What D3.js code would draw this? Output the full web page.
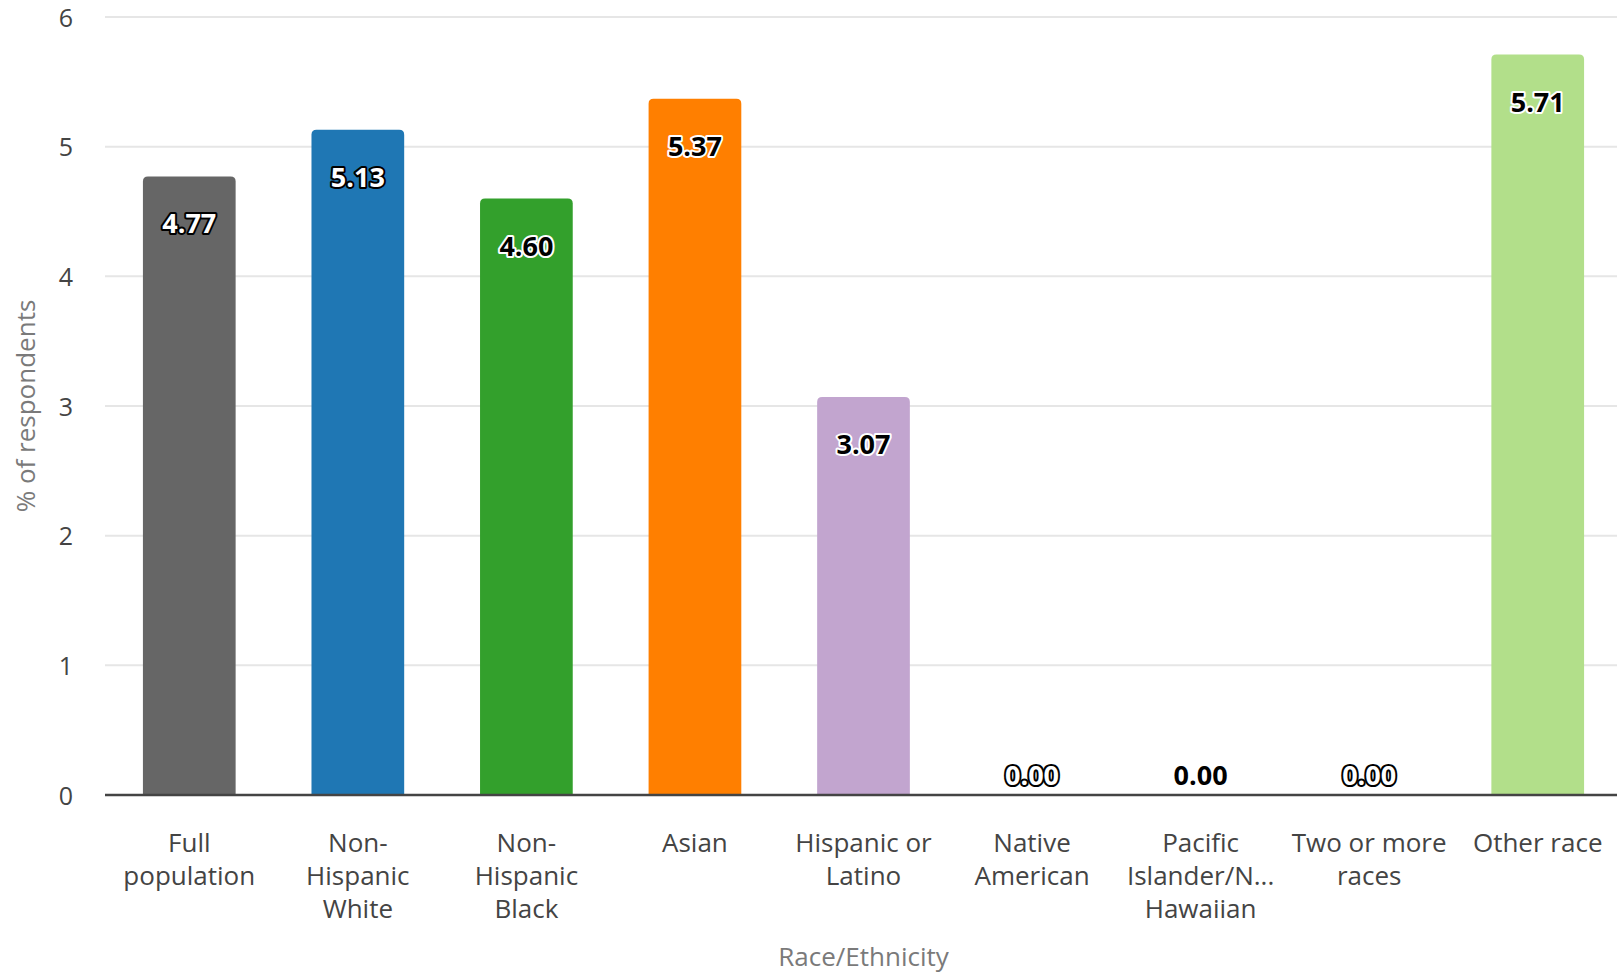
<!DOCTYPE html>
<html>
<head>
<meta charset="utf-8">
<script src="https://cdn.jsdelivr.net/npm/d3@7"></script>
<style>
  html, body { margin: 0; padding: 0; background: #fff; }
  svg { display: block; }
  text { font-family: "Open Sans", "Noto Sans", sans-serif; }
</style>
</head>
<body>
<svg id="chart" width="1617" height="976"></svg>
<script>
// ---- data ----
const categories = ["Full population", "Non-Hispanic White", "Non-Hispanic Black", "Asian",
  "Hispanic or Latino", "Native American", "Pacific Islander/Native Hawaiian", "Two or more races", "Other race"];
const tickLabelLines = [
  ["Full", "population"],
  ["Non-", "Hispanic", "White"],
  ["Non-", "Hispanic", "Black"],
  ["Asian"],
  ["Hispanic or", "Latino"],
  ["Native", "American"],
  ["Pacific", "Islander/N...", "Hawaiian"],
  ["Two or more", "races"],
  ["Other race"]
];
const values = [4.77, 5.13, 4.60, 5.37, 3.07, 0.00, 0.00, 0.00, 5.71];
const colors = ["#666666", "#1f77b4", "#33a02c", "#ff7f00", "#c2a5cf", "#80b1d3", "#fb9a99", "#fdbf6f", "#b2df8a"];
const labelDark = [false, false, true, true, true, false, true, false, true]; // dark text w/ white halo
const yTicks = [0, 1, 2, 3, 4, 5, 6];
const xTitle = "Race/Ethnicity";
const yTitle = "% of respondents";

// ---- layout ----
const svg = d3.select("#chart");
const mLeft = 105, mRight = 1622, mTop = 17, mBottom = 795;

const x = d3.scaleBand().domain(categories).range([mLeft, mRight]).paddingInner(0.45).paddingOuter(0.225);
const y = d3.scaleLinear().domain([0, 6]).range([mBottom, mTop]);

// gridlines
svg.append("g").selectAll("line").data(yTicks.filter(d => d !== 0)).join("line")
  .attr("x1", mLeft).attr("x2", 1617)
  .attr("y1", d => y(d)).attr("y2", d => y(d))
  .attr("stroke", "#e6e6e6").attr("stroke-width", 2);

// y axis tick labels
const yAxis = d3.axisLeft(y).tickValues(yTicks).tickSize(0).tickPadding(0).tickFormat(d3.format("d"));
const gy = svg.append("g").attr("transform", `translate(${mLeft - 32},0)`).call(yAxis);
gy.select(".domain").remove();
gy.selectAll("text").attr("font-size", 25).attr("fill", "#444")
  .attr("font-family", "'Open Sans', sans-serif").attr("dy", "0.36em");

// bars with rounded top corners
const rad = 5;
function barPath(d, i) {
  const x0 = x(categories[i]), w = x.bandwidth();
  const y0 = y(0), y1 = y(d);
  const h = y0 - y1;
  if (h <= 0) return "";
  const rr = Math.min(rad, h, w / 2);
  return `M${x0},${y0}V${y1 + rr}Q${x0},${y1} ${x0 + rr},${y1}H${x0 + w - rr}Q${x0 + w},${y1} ${x0 + w},${y1 + rr}V${y0}Z`;
}
svg.append("g").selectAll("path").data(values).join("path")
  .attr("d", (d, i) => barPath(d, i))
  .attr("fill", (d, i) => colors[i]);

// baseline axis
svg.append("line")
  .attr("x1", mLeft).attr("x2", 1617)
  .attr("y1", y(0)).attr("y2", y(0))
  .attr("stroke", "#444").attr("stroke-width", 2.5);

// value labels
svg.append("g").selectAll("text").data(values).join("text")
  .attr("x", (d, i) => x(categories[i]) + x.bandwidth() / 2)
  .attr("y", d => (y(0) - y(d) > 70) ? y(d) + 57 : y(0) - 10)
  .attr("text-anchor", "middle")
  .attr("font-size", 27).attr("font-weight", 700)
  .attr("fill", (d, i) => labelDark[i] ? "#000" : "#fff")
  .attr("stroke", (d, i) => labelDark[i] ? "#fff" : "#000")
  .attr("stroke-width", 4).attr("stroke-linejoin", "round")
  .attr("paint-order", "stroke")
  .text(d => d.toFixed(2));

// x tick labels, one text element per line
const lineItems = [];
categories.forEach((c, i) => tickLabelLines[i].forEach((line, j) => lineItems.push({ c, line, j })));
svg.append("g").selectAll("text").data(lineItems).join("text")
  .attr("text-anchor", "middle")
  .attr("font-size", 26).attr("fill", "#444")
  .attr("x", d => x(d.c) + x.bandwidth() / 2)
  .attr("y", d => 852 + d.j * 33)
  .text(d => d.line);

// axis titles
svg.append("text").attr("x", (mLeft + mRight) / 2).attr("y", 966)
  .attr("text-anchor", "middle").attr("font-size", 26).attr("fill", "#7a7a7a").text(xTitle);
svg.append("text")
  .attr("transform", `translate(35, ${(mTop + mBottom) / 2}) rotate(-90)`)
  .attr("text-anchor", "middle").attr("font-size", 26).attr("fill", "#7a7a7a").text(yTitle);
</script>
</body>
</html>
